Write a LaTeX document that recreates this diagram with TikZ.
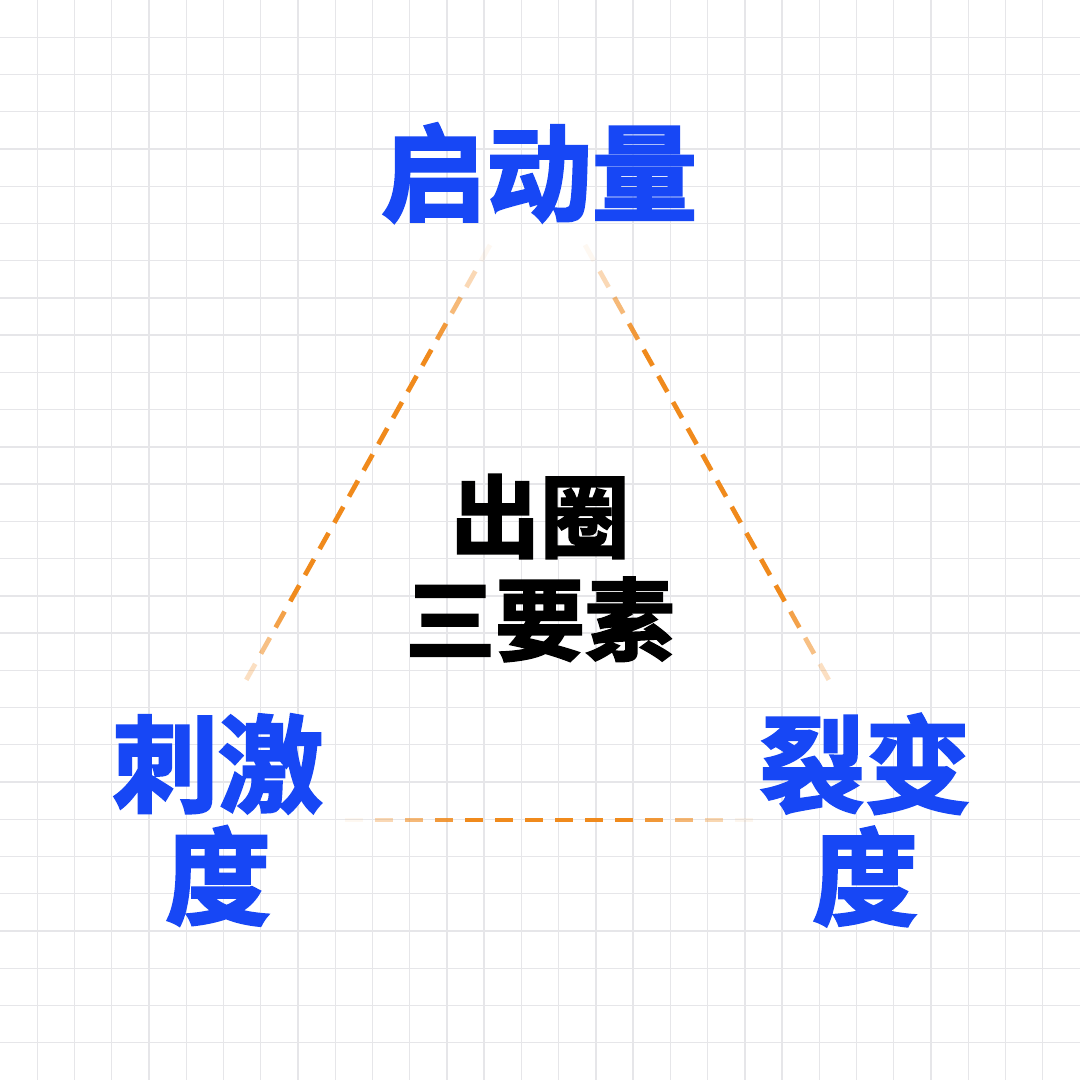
\documentclass[tikz,border=0pt]{standalone}
\usepackage{fontspec}
\usepackage{xcolor}
\usepackage{tikz}
\usetikzlibrary{decorations.markings}
\newfontfamily\cjk{Noto Sans CJK SC}[BoldFont={* Bold}, BoldFeatures={FakeBold=2.5}]

\definecolor{labelblue}{HTML}{1747F5}
\definecolor{edgeorange}{HTML}{F08A1C}
\definecolor{gridgray}{HTML}{E6E6E9}

\begin{document}
\begin{tikzpicture}
			\tikzstyle{factor} = [font=\cjk\bfseries\fontsize{30pt}{32pt}\selectfont, text=labelblue, align=center, inner sep=0pt]
			\tikzstyle{core} = [font=\cjk\bfseries\fontsize{25.5pt}{29.3pt}\selectfont, text=black, align=center, inner sep=0pt]
			\tikzset{gridline/.style = {draw=gridgray, line width=0.38pt}}
			% dashes that fade out towards both ends
			\tikzset{edge/.style = {decorate, decoration={markings,
				mark=between positions 0 and 1 step 8.54pt with {
					\pgfmathsetmacro\here{\pgfkeysvalueof{/pgf/decoration/mark info/distance from start}}
					\pgfmathsetmacro\op{min(1, 0.06 + min(\here, \pgfdecoratedpathlength-\here-5.2)/32)}
					\draw[edgeorange, line width=1.35pt, opacity=\op] (0,0) -- (5.2pt,0);
				}}}}
			
			% paper
			\fill[white] (0,0) rectangle (10.8,10.8);
			\useasboundingbox (0,0) rectangle (10.8,10.8);
			\foreach \k in {1,...,28} {
				\draw[gridline] (\k*0.372414,0) -- (\k*0.372414,10.8);
				\draw[gridline] (0,\k*0.372414) -- (10.8,\k*0.372414);
			}
			
			% factors
			\node[factor](start)    at (5.39,9.07) {启动量};
			\node[factor](stimulus) at (2.18,2.60) {刺激\\度};
			\node[factor](fission)  at (8.65,2.60) {裂变\\度};
			
			% centre
			\node[core](core) at (5.40,5.12) {出圈\\三要素};
			
			% triangle
			\coordinate (lefttop)     at (4.90,8.35);
			\coordinate (leftbottom)  at (2.35,3.80);
			\coordinate (righttop)    at (5.85,8.35);
			\coordinate (rightbottom) at (8.40,3.80);
			\coordinate (baseleft)    at (3.45,2.60);
			\coordinate (baseright)   at (7.55,2.60);
			\path[edge](lefttop)  to (leftbottom);
			\path[edge](righttop) to (rightbottom);
			\path[edge](baseleft) to (baseright);
\end{tikzpicture}
\end{document}
